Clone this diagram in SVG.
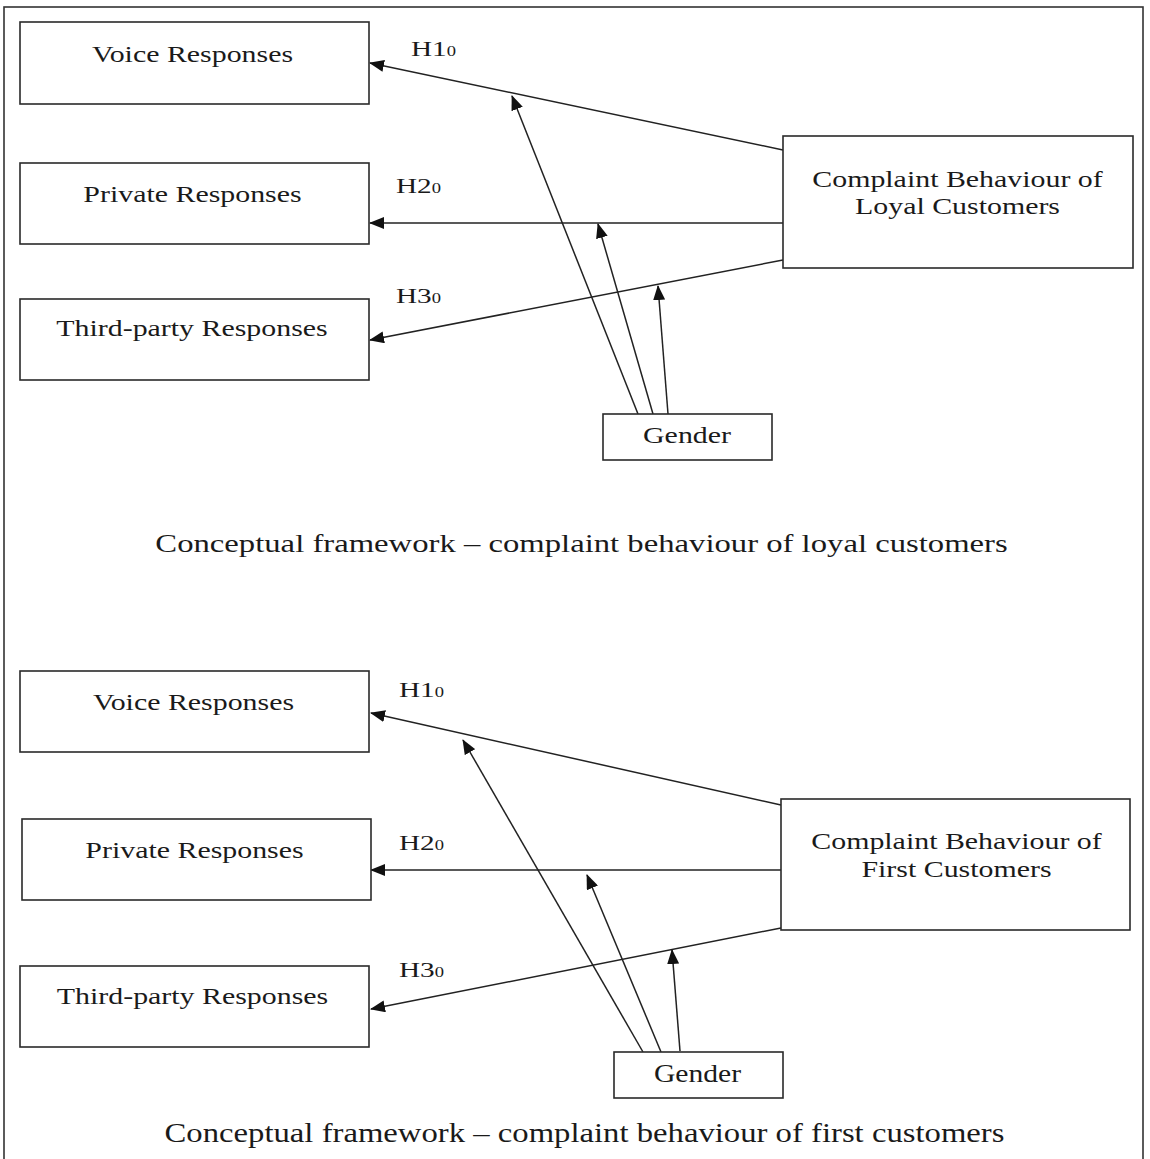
<svg xmlns="http://www.w3.org/2000/svg" width="1150" height="1159" viewBox="0 0 1150 1159">
<style>
.box{fill:#fff;stroke:#2a2a2a;stroke-width:1.6}
text{font-family:"Liberation Serif","Times New Roman",serif;fill:#1a1a1a}
.t{font-size:23px;text-anchor:middle}
.h{font-size:22px}
.s{font-size:14px}
.ln{stroke:#222;stroke-width:1.5;fill:none;marker-end:url(#ah)}
</style>
<defs>
<marker id="ah" markerUnits="userSpaceOnUse" markerWidth="16" markerHeight="12" refX="14" refY="6" orient="auto">
<path d="M0,0 L15,6 L0,12 Z" fill="#111"/>
</marker>
</defs>
<rect x="0" y="0" width="1150" height="1159" fill="#fff"/>
<rect x="4" y="7" width="1139" height="1170" fill="none" stroke="#333" stroke-width="1.6"/>

<g id="connectors">
<line class="ln" x1="783" y1="150" x2="370" y2="63"/>
<line class="ln" x1="783" y1="223" x2="370" y2="223"/>
<line class="ln" x1="783" y1="260" x2="370" y2="340"/>
<line class="ln" x1="638" y1="414" x2="512" y2="96"/>
<line class="ln" x1="653" y1="414" x2="598" y2="224"/>
<line class="ln" x1="668" y1="414" x2="658" y2="286"/>

<line class="ln" x1="781" y1="805" x2="371" y2="713"/>
<line class="ln" x1="781" y1="870" x2="371" y2="870"/>
<line class="ln" x1="781" y1="928" x2="371" y2="1009"/>
<line class="ln" x1="643" y1="1052" x2="463" y2="740"/>
<line class="ln" x1="661" y1="1052" x2="587" y2="875"/>
<line class="ln" x1="680" y1="1051" x2="672" y2="950"/>
</g>

<g id="labels-top">
<text class="h" transform="translate(411,56) scale(1.33,1)">H1<tspan class="s">0</tspan></text>
<text class="h" transform="translate(396,193) scale(1.33,1)">H2<tspan class="s">0</tspan></text>
<text class="h" transform="translate(396,303) scale(1.33,1)">H3<tspan class="s">0</tspan></text>
</g>
<g id="labels-bottom">
<text class="h" transform="translate(399,697) scale(1.33,1)">H1<tspan class="s">0</tspan></text>
<text class="h" transform="translate(399,850) scale(1.33,1)">H2<tspan class="s">0</tspan></text>
<text class="h" transform="translate(399,977) scale(1.33,1)">H3<tspan class="s">0</tspan></text>
</g>

<g id="voice1"><rect class="box" x="20" y="22" width="349" height="82"/>
<text class="t" transform="translate(192.5,62) scale(1.3,1)">Voice Responses</text></g>
<g id="private1"><rect class="box" x="20" y="163" width="349" height="81"/>
<text class="t" transform="translate(192.5,202) scale(1.3,1)">Private Responses</text></g>
<g id="third1"><rect class="box" x="20" y="299" width="349" height="81"/>
<text class="t" transform="translate(192,336) scale(1.3,1)">Third-party Responses</text></g>
<g id="complaint1"><rect class="box" x="783" y="136" width="350" height="132"/>
<text class="t" transform="translate(957.5,187) scale(1.3,1)">Complaint Behaviour of</text>
<text class="t" transform="translate(957.5,214) scale(1.3,1)">Loyal Customers</text></g>
<g id="gender1"><rect class="box" x="603" y="414" width="169" height="46"/>
<text class="t" transform="translate(687,443) scale(1.3,1)">Gender</text></g>
<text id="caption1" class="t" style="font-size:25px" transform="translate(581.5,552) scale(1.308,1)">Conceptual framework – complaint behaviour of loyal customers</text>

<g id="voice2"><rect class="box" x="20" y="671" width="349" height="81"/>
<text class="t" transform="translate(193.5,710) scale(1.3,1)">Voice Responses</text></g>
<g id="private2"><rect class="box" x="22" y="819" width="349" height="81"/>
<text class="t" transform="translate(194.5,858) scale(1.3,1)">Private Responses</text></g>
<g id="third2"><rect class="box" x="20" y="966" width="349" height="81"/>
<text class="t" transform="translate(192.5,1004) scale(1.3,1)">Third-party Responses</text></g>
<g id="complaint2"><rect class="box" x="781" y="799" width="349" height="131"/>
<text class="t" transform="translate(956.5,849) scale(1.3,1)">Complaint Behaviour of</text>
<text class="t" transform="translate(956.5,877) scale(1.3,1)">First Customers</text></g>
<g id="gender2"><rect class="box" x="614" y="1052" width="169" height="46"/>
<text class="t" style="font-size:26px" transform="translate(697.5,1082) scale(1.138,1)">Gender</text></g>
<text id="caption2" class="t" style="font-size:28px" transform="translate(584.5,1142) scale(1.168,1)">Conceptual framework – complaint behaviour of first customers</text>
</svg>
